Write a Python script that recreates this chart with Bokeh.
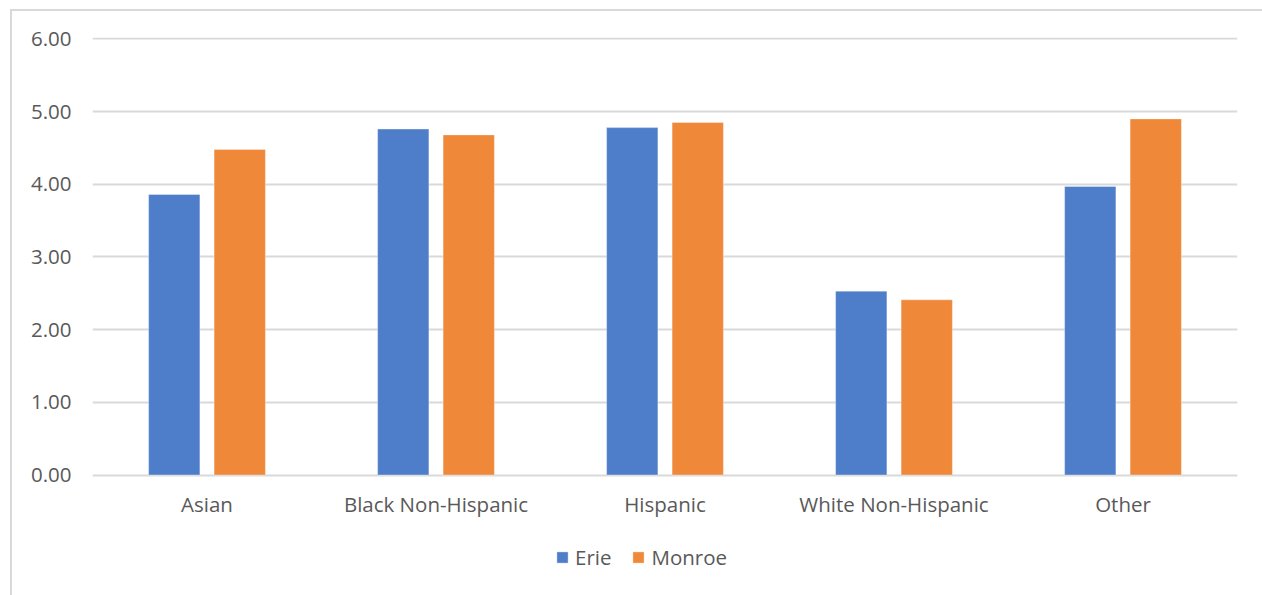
from bokeh.plotting import figure
from bokeh.models import (ColumnDataSource, FactorRange, Range1d, FixedTicker,
                          NumeralTickFormatter, Legend, LegendItem)
from bokeh.core.properties import value
from bokeh.transform import dodge
from bokeh.embed import file_html
from bokeh.resources import INLINE

# Data
categories = ["Asian", "Black Non-Hispanic", "Hispanic", "White Non-Hispanic", "Other"]
erie = [3.86, 4.76, 4.78, 2.53, 3.97]
monroe = [4.48, 4.68, 4.85, 2.41, 4.90]
y_ticks = [0, 1, 2, 3, 4, 5, 6]

BLUE = "#4E7ECA"
ORANGE = "#EF8839"
TEXT = "#595959"
GRID = "#D9D9D9"
FONT = "Open Sans"
FONT_SIZE = "20.5px"

source = ColumnDataSource(dict(cat=categories, erie=erie, monroe=monroe,
                               zero=[0] * len(categories)))

# The frame runs down to the bottom of the canvas so the category labels and
# the legend can sit beneath the value axis.
p = figure(
    width=1262, height=595,
    x_range=FactorRange(factors=categories, range_padding=0),
    y_range=Range1d(-1.658, 6.02),
    x_axis_location=None,
    output_backend="svg", toolbar_location=None,
    min_border_left=92, min_border_right=25,
    min_border_top=37, min_border_bottom=0,
)
p.border_fill_color = None
p.background_fill_color = "white"
p.outline_line_color = None
p.styles = {
    "background": (
        "linear-gradient(#D9D9D9,#D9D9D9) 10px 9px / 2px 586px no-repeat, "
        "linear-gradient(#D9D9D9,#D9D9D9) 10px 9px / 1252px 2px no-repeat, white"
    )
}

r_erie = p.vbar(x=dodge("cat", -0.143, range=p.x_range), top="erie", width=0.224,
                source=source, fill_color=BLUE, line_color="white", line_alpha=0.35,
                line_width=1)
r_monroe = p.vbar(x=dodge("cat", 0.143, range=p.x_range), top="monroe", width=0.224,
                  source=source, fill_color=ORANGE, line_color="white", line_alpha=0.35,
                  line_width=1)

# Category labels under the baseline
p.text(x="cat", y="zero", text="cat", source=source, y_offset=29,
       text_align="center", text_baseline="middle",
       text_font=value(FONT), text_font_size=FONT_SIZE, text_color=TEXT)

# Value axis
yax = p.yaxis[0]
yax.ticker = FixedTicker(ticks=y_ticks)
yax.formatter = NumeralTickFormatter(format="0.00")
yax.axis_line_color = None
yax.major_tick_line_color = None
yax.minor_tick_line_color = None
yax.major_tick_out = 0
yax.major_tick_in = 0
yax.major_label_text_color = TEXT
yax.major_label_text_font = FONT
yax.major_label_text_font_size = FONT_SIZE
yax.major_label_standoff = 21

p.xgrid.grid_line_color = None
p.ygrid.grid_line_color = GRID
p.ygrid.grid_line_width = 2
p.ygrid.ticker = FixedTicker(ticks=y_ticks)

legend = Legend(
    items=[LegendItem(label="Erie", renderers=[r_erie]),
           LegendItem(label="Monroe", renderers=[r_monroe])],
    orientation="horizontal", location=(463, 24),
    glyph_width=14, glyph_height=14, label_standoff=6, spacing=20,
    padding=0, margin=0, border_line_color=None, background_fill_alpha=0,
    label_text_font=FONT, label_text_font_size=FONT_SIZE, label_text_color=TEXT,
)
p.add_layout(legend, "center")

open("out.html", "w").write(file_html(p, INLINE))
